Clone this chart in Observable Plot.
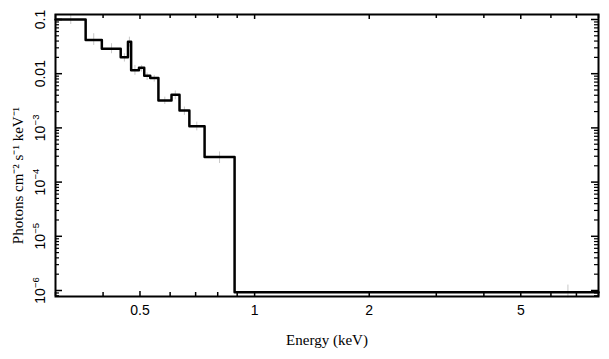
<!DOCTYPE html>
<html>
<head>
<meta charset="utf-8">
<script src="https://cdn.jsdelivr.net/npm/d3@7"></script>
<script src="https://cdn.jsdelivr.net/npm/@observablehq/plot@0.6"></script>
<style>
  html, body { margin: 0; padding: 0; background: #fff; }
  svg { display: block; }
</style>
</head>
<body>
<div id="chart"></div>
<script>
// Model step: bin edges (keV) and flux per bin (photons cm^-2 s^-1 keV^-1)
const binEdges = [0.3, 0.36, 0.397, 0.445, 0.465, 0.474, 0.497, 0.513, 0.532, 0.559, 0.605, 0.635, 0.674, 0.739, 0.886, 8];
const binValues = [0.1, 0.042, 0.0288, 0.0202, 0.0389, 0.0116, 0.0129, 0.0092, 0.0083, 0.0032, 0.0041, 0.0021, 0.00107, 0.00029, 9.3e-7];

// Data error bars (light grey)
const errEnergy = [0.329, 0.378, 0.421, 0.455, 0.469, 0.485, 0.505, 0.522, 0.545, 0.581, 0.619, 0.654, 0.705, 0.809, 6.65];
const errLow  = [0.081, 0.0332, 0.0233, 0.0164, 0.0309, 0.0093, 0.0107, 0.0075, 0.0070, 0.0027, 0.0033, 0.0017, 0.00088, 0.00022, 7.3e-7];
const errHigh = [0.124, 0.0546, 0.0357, 0.0233, 0.0472, 0.0142, 0.0142, 0.0103, 0.0093, 0.0037, 0.0048, 0.00243, 0.00128, 0.00036, 1.26e-6];

// Axis ticks
const xMajor = [0.5, 1, 2, 5];
const xMajorLabels = ["0.5", "1", "2", "5"];
const xMinor = [0.3, 0.4, 0.6, 0.7, 0.8, 0.9, 3, 4, 6, 7, 8];
const yMajor = [0.1, 0.01, 1e-3, 1e-4, 1e-5, 1e-6];
const yPlainTicks = [0.1, 0.01];
const yPlainLabels = ["0.1", "0.01"];
const yPowTicks = [1e-3, 1e-4, 1e-5, 1e-6];
const yPowExponents = ["\u22123", "\u22124", "\u22125", "\u22126"];
const yMinor = [8e-7, 9e-7,
  2e-6, 3e-6, 4e-6, 5e-6, 6e-6, 7e-6, 8e-6, 9e-6,
  2e-5, 3e-5, 4e-5, 5e-5, 6e-5, 7e-5, 8e-5, 9e-5,
  2e-4, 3e-4, 4e-4, 5e-4, 6e-4, 7e-4, 8e-4, 9e-4,
  2e-3, 3e-3, 4e-3, 5e-3, 6e-3, 7e-3, 8e-3, 9e-3,
  0.02, 0.03, 0.04, 0.05, 0.06, 0.07, 0.08, 0.09];

const W = 609, H = 359;
const mL = 55, mR = 11, mT = 14, mB = 63;
const innerW = W - mL - mR, innerH = H - mT - mB;

const steps = binEdges.map((e, i) => ({x: e, y: binValues[Math.min(i, binValues.length - 1)]}));
const errs = errEnergy.map((e, i) => ({x: e, lo: errLow[i], hi: errHigh[i]}));

const sans = "'Liberation Sans', Arial, Helvetica, sans-serif";
const serif = "'Liberation Serif', 'Times New Roman', serif";

const plot = Plot.plot({
  width: W, height: H,
  marginLeft: mL, marginRight: mR, marginTop: mT, marginBottom: mB,
  style: {background: "#fff", fontFamily: sans},
  x: {type: "log", domain: [0.3, 8], axis: null},
  y: {type: "log", domain: [7.75e-7, 0.1236], axis: null},
  marks: [
    Plot.ruleX(errs, {x: "x", y1: "lo", y2: "hi", stroke: "#c8c8c8", strokeWidth: 1}),
    Plot.line(steps, {x: "x", y: "y", curve: "step-after", stroke: "#000", strokeWidth: 2.5}),
    // x ticks (inside), bottom and top
    Plot.ruleX(xMajor, {x: d => d, insetTop: innerH - 5, stroke: "#000", strokeWidth: 1.5}),
    Plot.ruleX(xMinor, {x: d => d, insetTop: innerH - 4, stroke: "#000", strokeWidth: 1.5}),
    Plot.ruleX(xMajor, {x: d => d, insetBottom: innerH - 5, stroke: "#000", strokeWidth: 1.5}),
    Plot.ruleX(xMinor, {x: d => d, insetBottom: innerH - 4, stroke: "#000", strokeWidth: 1.5}),
    // y ticks (inside), left and right
    Plot.ruleY(yMajor, {y: d => d, insetRight: innerW - 7, stroke: "#000", strokeWidth: 1.5}),
    Plot.ruleY(yMinor, {y: d => d, insetRight: innerW - 4, stroke: "#000", strokeWidth: 1.2}),
    Plot.ruleY(yMajor, {y: d => d, insetLeft: innerW - 7, stroke: "#000", strokeWidth: 1.5}),
    Plot.ruleY(yMinor, {y: d => d, insetLeft: innerW - 4, stroke: "#000", strokeWidth: 1.2}),
    Plot.frame({stroke: "#000", strokeWidth: 2}),
    // x tick labels
    Plot.text(xMajor, {x: d => d, text: (d, i) => xMajorLabels[i], frameAnchor: "bottom", dy: 14, lineAnchor: "middle", fontSize: 14, fontFamily: sans, fill: "#000"}),
    // y tick labels (rotated)
    Plot.text(yPlainTicks, {y: d => d, text: (d, i) => yPlainLabels[i], frameAnchor: "left", dx: -15, rotate: -90, textAnchor: "middle", lineAnchor: "middle", fontSize: 14, fontFamily: sans, fill: "#000"}),
    Plot.text(yPowTicks, {y: d => d, text: () => "10", frameAnchor: "left", dx: -15, dy: 5.5, rotate: -90, textAnchor: "middle", lineAnchor: "middle", fontSize: 14, fontFamily: sans, fill: "#000"}),
    Plot.text(yPowTicks, {y: d => d, text: (d, i) => yPowExponents[i], frameAnchor: "left", dx: -19.5, dy: -2.5, rotate: -90, textAnchor: "start", lineAnchor: "middle", fontSize: 9.5, fontFamily: sans, fill: "#000"}),
    // axis titles
    Plot.text(["Energy (keV)"], {text: d => d, frameAnchor: "bottom", dy: 44, lineAnchor: "middle", fontSize: 15, fontFamily: serif, fill: "#000"}),
    Plot.text(["Photons cm\u207B\u00B2 s\u207B\u00B9 keV\u207B\u00B9"], {text: d => d, frameAnchor: "left", dx: -37, dy: 20, rotate: -90, textAnchor: "middle", lineAnchor: "middle", fontSize: 15, fontFamily: serif, fill: "#000"})
  ]
});
document.getElementById("chart").appendChild(plot);
</script>
</body>
</html>
